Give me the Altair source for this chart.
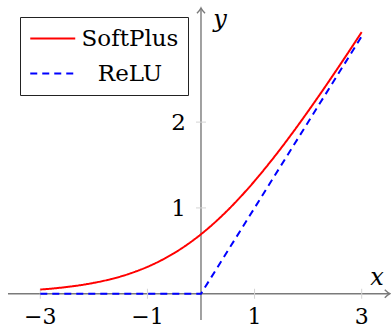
import altair as alt
import pandas as pd

# ---- data ----
series_names = ["SoftPlus", "ReLU"]
series_colors = ["#ff0000", "#0000ff"]

softplus_x = [-3.0, -2.75, -2.5, -2.25, -2.0, -1.75, -1.5, -1.25, -1.0, -0.75, -0.5, -0.25,
              0.0, 0.25, 0.5, 0.75, 1.0, 1.25, 1.5, 1.75, 2.0, 2.25, 2.5, 2.75, 3.0]
softplus_y = [0.049, 0.062, 0.079, 0.100, 0.127, 0.160, 0.201, 0.252, 0.313, 0.387, 0.474, 0.576,
              0.693, 0.826, 0.974, 1.137, 1.313, 1.502, 1.701, 1.910, 2.127, 2.350, 2.579, 2.812, 3.049]

relu_x = [-3.0, 0.0, 3.0]
relu_y = [0.0, 0.0, 3.0]

x_ticks = [-3, -1, 1, 3]
x_tick_labels = ["\u22123", "\u22121", "1", "3"]
y_ticks = [1, 2]
y_tick_labels = ["1", "2"]

# ---- tables ----
sp_df = pd.DataFrame({"x": softplus_x, "y": softplus_y, "series": series_names[0]})
relu_df = pd.DataFrame({"x": relu_x, "y": relu_y, "series": series_names[1]})
xt_df = pd.DataFrame({"v": x_ticks, "label": x_tick_labels})
yt_df = pd.DataFrame({"v": y_ticks, "label": y_tick_labels})
one = pd.DataFrame({"k": [0]})

W, H = 391, 329
xs = alt.Scale(domain=[-3.752, 3.547], nice=False, zero=False)
ys = alt.Scale(domain=[-0.411, 3.423], nice=False, zero=False)

AX = "#7a7a7a"
TICK = "#d4d4d4"
FONT = "DejaVu Serif"

color_enc = alt.Color("series:N", scale=alt.Scale(domain=series_names, range=series_colors),
                      legend=alt.Legend(title=None))
dash_enc = alt.StrokeDash("series:N", scale=alt.Scale(domain=series_names, range=[[1, 0], [7, 5]]),
                          legend=alt.Legend(title=None))

# axes lines
x_axis = alt.Chart(one).mark_rule(color=AX, strokeWidth=1.4).encode(
    x=alt.X(datum=-3.603, scale=xs, axis=None), x2=alt.X2(datum=3.52),
    y=alt.Y(datum=0, scale=ys, axis=None))
y_axis = alt.Chart(one).mark_rule(color=AX, strokeWidth=1.4).encode(
    x=alt.X(datum=0, scale=xs, axis=None),
    y=alt.Y(datum=-0.307, scale=ys, axis=None), y2=alt.Y2(datum=3.32))

x_arrow = alt.Chart(one).mark_point(
    shape="M-1.1,-0.85 Q-0.45,-0.2 0,0 Q-0.45,0.2 -1.1,0.85",
    size=90, filled=False, color=AX, strokeWidth=1.4, opacity=1).encode(
    x=alt.X(datum=3.528, scale=xs, axis=None), y=alt.Y(datum=0, scale=ys, axis=None))
y_arrow = alt.Chart(one).mark_point(
    shape="M-0.85,1.1 Q-0.2,0.45 0,0 Q0.2,0.45 0.85,1.1",
    size=90, filled=False, color=AX, strokeWidth=1.4, opacity=1).encode(
    x=alt.X(datum=0, scale=xs, axis=None), y=alt.Y(datum=3.33, scale=ys, axis=None))

# tick marks
x_tick_marks = alt.Chart(xt_df).mark_tick(orient="vertical", size=10, thickness=1, color=TICK, opacity=1).encode(
    x=alt.X("v:Q", scale=xs, axis=None), y=alt.Y(datum=0, scale=ys, axis=None))
y_tick_marks = alt.Chart(yt_df).mark_tick(orient="horizontal", size=10, thickness=1, color=TICK, opacity=1).encode(
    x=alt.X(datum=0, scale=xs, axis=None), y=alt.Y("v:Q", scale=ys, axis=None))

# tick labels
x_labels = alt.Chart(xt_df).mark_text(font=FONT, fontSize=22, color="black", align="center",
                                      baseline="alphabetic", dy=30).encode(
    x=alt.X("v:Q", scale=xs, axis=None), y=alt.Y(datum=0, scale=ys, axis=None), text="label:N")
y_labels = alt.Chart(yt_df).mark_text(font=FONT, fontSize=23, color="black", align="right",
                                      baseline="alphabetic", dx=-15, dy=8).encode(
    x=alt.X(datum=0, scale=xs, axis=None), y=alt.Y("v:Q", scale=ys, axis=None), text="label:N")

# axis names
x_name = alt.Chart(one).mark_text(font=FONT, fontSize=24, fontStyle="italic", color="black",
                                  align="center", baseline="alphabetic", text="x").encode(
    x=alt.X(datum=3.285, scale=xs, axis=None), y=alt.Y(datum=0.10, scale=ys, axis=None))
y_name = alt.Chart(one).mark_text(font=FONT, fontSize=24, fontStyle="italic", color="black",
                                  align="center", baseline="alphabetic", text="y").encode(
    x=alt.X(datum=0.355, scale=xs, axis=None), y=alt.Y(datum=3.11, scale=ys, axis=None))

# curves
relu_line = alt.Chart(relu_df).mark_line(strokeWidth=2).encode(
    x=alt.X("x:Q", scale=xs, axis=None), y=alt.Y("y:Q", scale=ys, axis=None),
    color=color_enc, strokeDash=dash_enc)
sp_line = alt.Chart(sp_df).mark_line(strokeWidth=2, interpolate="monotone").encode(
    x=alt.X("x:Q", scale=xs, axis=None), y=alt.Y("y:Q", scale=ys, axis=None),
    color=color_enc, strokeDash=dash_enc)

chart = alt.layer(
    x_axis, y_axis, x_arrow, y_arrow, x_tick_marks, y_tick_marks,
    x_labels, y_labels, x_name, y_name, relu_line, sp_line
).properties(
    width=W, height=H,
    autosize=alt.AutoSizeParams(type="none"),
    padding=0,
    background="white",
).configure_view(stroke=None).configure_legend(
    orient="none", legendX=20, legendY=17,
    strokeColor="#222222", fillColor="white", padding=9,
    symbolType="M-1,0 L3,0", symbolSize=506, symbolStrokeWidth=2,
    labelFont=FONT, labelFontSize=23, labelColor="black",
    labelAlign="center", labelOffset=76,
    rowPadding=10, labelLimit=300,
)

chart.save("out.html", embed_options={"renderer": "svg", "actions": False})
